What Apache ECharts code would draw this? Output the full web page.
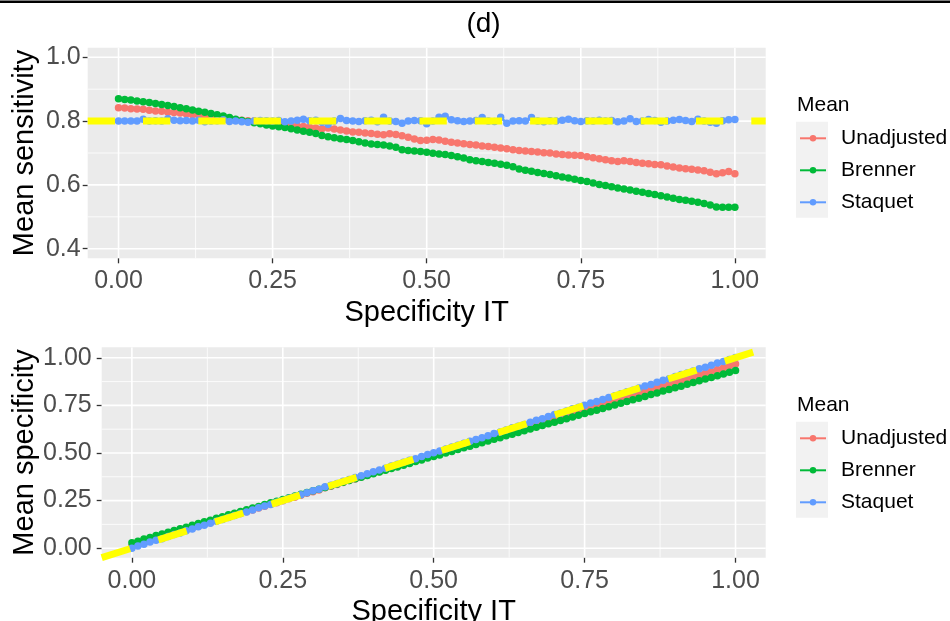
<!DOCTYPE html>
<html>
<head>
<meta charset="utf-8">
<script src="https://cdn.jsdelivr.net/npm/echarts@6/dist/echarts.min.js"></script>
<style>
  html, body { margin: 0; padding: 0; background: #ffffff; }
  #chart { width: 950px; height: 621px; }
</style>
</head>
<body>
<div id="chart"></div>
<script>
// Specificity of the index test (x grid shared by both panels)
const specIT = [
  0.00,0.01,0.02,0.03,0.04,0.05,0.06,0.07,0.08,0.09,
  0.10,0.11,0.12,0.13,0.14,0.15,0.16,0.17,0.18,0.19,
  0.20,0.21,0.22,0.23,0.24,0.25,0.26,0.27,0.28,0.29,
  0.30,0.31,0.32,0.33,0.34,0.35,0.36,0.37,0.38,0.39,
  0.40,0.41,0.42,0.43,0.44,0.45,0.46,0.47,0.48,0.49,
  0.50,0.51,0.52,0.53,0.54,0.55,0.56,0.57,0.58,0.59,
  0.60,0.61,0.62,0.63,0.64,0.65,0.66,0.67,0.68,0.69,
  0.70,0.71,0.72,0.73,0.74,0.75,0.76,0.77,0.78,0.79,
  0.80,0.81,0.82,0.83,0.84,0.85,0.86,0.87,0.88,0.89,
  0.90,0.91,0.92,0.93,0.94,0.95,0.96,0.97,0.98,0.99,
  1.00
];

// Mean sensitivity estimates
const sensUnadjusted = [
  .842,.841,.839,.838,.837,.834,.832,.831,.828,.827,
  .825,.822,.820,.818,.816,.814,.813,.809,.806,.804,
  .803,.801,.800,.797,.796,.794,.792,.789,.787,.785,
  .783,.781,.778,.776,.778,.775,.772,.769,.766,.765,
  .763,.761,.759,.757,.760,.758,.754,.749,.744,.739,
  .740,.742,.741,.737,.734,.731,.729,.727,.725,.722,
  .720,.718,.716,.713,.710,.708,.706,.705,.703,.701,
  .700,.697,.695,.694,.693,.692,.688,.685,.682,.679,
  .676,.673,.676,.673,.670,.668,.666,.664,.663,.659,
  .656,.653,.651,.649,.647,.644,.640,.635,.638,.642,
  .635
];
const sensBrenner = [
  .870,.868,.866,.863,.861,.858,.855,.852,.849,.846,
  .842,.839,.835,.831,.828,.824,.820,.816,.811,.806,
  .802,.799,.795,.792,.788,.785,.782,.780,.776,.772,
  .768,.765,.761,.755,.751,.748,.745,.742,.739,.735,
  .731,.728,.727,.725,.722,.718,.710,.708,.706,.705,
  .702,.699,.697,.695,.692,.688,.684,.679,.676,.673,
  .670,.668,.665,.662,.657,.650,.646,.643,.639,.636,
  .633,.629,.625,.622,.618,.614,.611,.606,.601,.598,
  .594,.590,.587,.584,.580,.577,.573,.570,.566,.562,
  .558,.554,.552,.549,.546,.542,.537,.531,.530,.530,
  .530
];
const sensStaquet = [
  .800,.800,.800,.800,.806,.800,.801,.800,.807,.803,
  .801,.802,.800,.803,.798,.800,.801,.804,.799,.800,
  .798,.796,.800,.802,.801,.800,.802,.798,.800,.803,
  .806,.801,.803,.796,.790,.800,.808,.802,.800,.799,
  .801,.803,.798,.812,.800,.799,.793,.800,.802,.801,
  .792,.800,.812,.815,.804,.801,.799,.800,.802,.811,
  .800,.799,.812,.793,.800,.801,.800,.811,.800,.798,
  .801,.800,.803,.806,.801,.799,.801,.800,.803,.800,
  .802,.798,.800,.807,.799,.800,.805,.802,.796,.800,
  .803,.805,.802,.799,.806,.800,.796,.793,.801,.804,
  .805
];

// Mean specificity estimates
const specUnadjusted = [
  .010,.018,.029,.039,.048,.058,.067,.077,.086,.097,
  .106,.115,.126,.134,.144,.153,.163,.173,.182,.191,
  .201,.211,.220,.231,.239,.249,.259,.268,.278,.288,
  .297,.306,.317,.325,.335,.345,.355,.363,.374,.383,
  .393,.402,.412,.421,.431,.441,.449,.460,.469,.478,
  .489,.498,.507,.517,.527,.536,.545,.556,.565,.574,
  .584,.594,.603,.613,.622,.632,.642,.651,.660,.671,
  .680,.689,.699,.709,.718,.727,.738,.746,.756,.766,
  .776,.785,.794,.805,.813,.823,.833,.842,.852,.861,
  .871,.881,.890,.899,.909,.919,.928,.938,.947,.958,
  .967
];
const specBrenner = [
  .028,.036,.048,.056,.066,.074,.084,.093,.102,.110,
  .120,.129,.139,.147,.157,.165,.175,.183,.193,.202,
  .211,.219,.229,.238,.247,.256,.265,.274,.283,.292,
  .301,.310,.319,.328,.337,.346,.355,.364,.373,.382,
  .391,.400,.409,.418,.427,.436,.445,.455,.463,.473,
  .482,.490,.500,.508,.518,.527,.535,.545,.554,.563,
  .572,.580,.590,.599,.608,.617,.626,.635,.644,.653,
  .662,.671,.680,.689,.698,.707,.716,.725,.734,.743,
  .752,.761,.771,.779,.788,.797,.807,.815,.825,.833,
  .843,.851,.861,.870,.879,.888,.897,.906,.915,.924,
  .933
];
const specStaquet = [
  .000,.011,.021,.032,.041,.050,.061,.072,.080,.091,
  .101,.112,.120,.131,.142,.150,.161,.171,.182,.190,
  .201,.212,.221,.230,.241,.250,.262,.271,.280,.291,
  .301,.310,.322,.331,.340,.352,.361,.371,.380,.391,
  .402,.411,.420,.432,.441,.451,.462,.470,.481,.492,
  .501,.510,.521,.532,.540,.551,.562,.571,.580,.591,
  .602,.610,.621,.632,.641,.650,.661,.672,.680,.691,
  .702,.710,.721,.732,.740,.751,.762,.770,.781,.792,
  .800,.811,.822,.830,.841,.852,.860,.871,.882,.890,
  .901,.912,.920,.931,.942,.950,.961,.972,.980,.991,
  1.002
];

// Reference targets (true sensitivity 0.8, identity for specificity)
const trueSensitivity = 0.8;
const identityEnds = [-0.05, 1.055];

// Axis breaks
const xTicks = [0, 0.25, 0.5, 0.75, 1];
const xMinor = [0.125, 0.375, 0.625, 0.875];
const sensTicks = [0.4, 0.6, 0.8, 1.0];
const sensMinor = [0.5, 0.7, 0.9];
const specTicks = [0, 0.25, 0.5, 0.75, 1];
const specMinor = [0.125, 0.375, 0.625, 0.875];

const methodNames = ['Unadjusted', 'Brenner', 'Staquet'];
const methodColors = ['#F8766D', '#00BA38', '#619CFF'];

const FONT = "'Liberation Sans', Arial, Helvetica, sans-serif";
const chart = echarts.init(document.getElementById('chart'), null, { renderer: 'canvas' });

const pairs = ys => specIT.map((x, i) => [x, ys[i]]);

// White panel grid lines: [value, orientation (0 vertical, 1 horizontal), major flag]
function panelGrid(gi, xMaj, xMin, yMaj, yMin) {
  const items = [];
  xMin.forEach(v => items.push([v, 0, 0]));
  yMin.forEach(v => items.push([v, 1, 0]));
  xMaj.forEach(v => items.push([v, 0, 1]));
  yMaj.forEach(v => items.push([v, 1, 1]));
  return {
    type: 'custom', xAxisIndex: gi, yAxisIndex: gi, silent: true, z: 1,
    animation: false, clip: true,
    data: items,
    renderItem: (params, api) => {
      const v = api.value(0);
      const horizontal = api.value(1) === 1;
      const major = api.value(2) === 1;
      const cs = params.coordSys;
      let shape;
      if (horizontal) {
        const py = api.coord([0, v])[1];
        shape = { x1: cs.x, y1: py, x2: cs.x + cs.width, y2: py };
      } else {
        const px = api.coord([v, 0])[0];
        shape = { x1: px, y1: cs.y, x2: px, y2: cs.y + cs.height };
      }
      return { type: 'line', shape, style: { stroke: '#FFFFFF', lineWidth: major ? 1.6 : 0.8 } };
    }
  };
}

function methodSeries(k, ys, gi) {
  const color = methodColors[k];
  return {
    type: 'line', name: methodNames[k], xAxisIndex: gi, yAxisIndex: gi,
    data: pairs(ys), symbol: 'circle', symbolSize: 7.5,
    showSymbol: true, showAllSymbol: true,
    lineStyle: { color, width: 2.5 }, itemStyle: { color },
    emphasis: { disabled: true }, z: 3, animation: false
  };
}

function xAxisFor(gi) {
  return {
    gridIndex: gi, type: 'value', min: -0.05, max: 1.05,
    axisLine: { show: false, onZero: false },
    axisTick: { show: true, customValues: xTicks, length: 5, lineStyle: { color: '#333333', width: 1.3 } },
    axisLabel: { customValues: xTicks, formatter: v => v.toFixed(2), fontSize: 25, color: '#4D4D4D', margin: 10.5, fontFamily: FONT },
    splitLine: { show: false },
    name: 'Specificity IT', nameLocation: 'middle', nameGap: 40, nameMoveOverlap: false,
    nameTextStyle: { fontSize: 29, color: '#000000', fontFamily: FONT }
  };
}

function legendFor(top) {
  return {
    orient: 'vertical', left: 799, top: top, padding: 0,
    itemWidth: 26, itemHeight: 8, itemGap: 0,
    selectedMode: false, data: methodNames,
    textStyle: { fontSize: 21, lineHeight: 32, color: '#000000', fontFamily: FONT, padding: [0, 0, 0, 10] }
  };
}

const option = {
  animation: false,
  backgroundColor: '#FFFFFF',
  grid: [
    { left: 87.7, top: 47.7, width: 678, height: 210.6, show: true, backgroundColor: '#EBEBEB', borderWidth: 0, containLabel: false, outerBoundsMode: 'none' },
    { left: 101.7, top: 347.3, width: 664, height: 210.4, show: true, backgroundColor: '#EBEBEB', borderWidth: 0, containLabel: false, outerBoundsMode: 'none' }
  ],
  xAxis: [xAxisFor(0), xAxisFor(1)],
  yAxis: [
    {
      gridIndex: 0, type: 'value', min: 0.37, max: 1.03,
      axisLine: { show: false, onZero: false },
      axisTick: { show: true, customValues: sensTicks, length: 5, lineStyle: { color: '#333333', width: 1.3 } },
      axisLabel: { customValues: sensTicks, formatter: v => v.toFixed(1), fontSize: 25, color: '#4D4D4D', margin: 7, fontFamily: FONT },
      splitLine: { show: false },
      name: 'Mean sensitivity', nameLocation: 'middle', nameGap: 48, nameMoveOverlap: false,
      nameTextStyle: { fontSize: 29, color: '#000000', fontFamily: FONT }
    },
    {
      gridIndex: 1, type: 'value', min: -0.05, max: 1.055,
      axisLine: { show: false, onZero: false },
      axisTick: { show: true, customValues: specTicks, length: 5, lineStyle: { color: '#333333', width: 1.3 } },
      axisLabel: { customValues: specTicks, formatter: v => v.toFixed(2), fontSize: 25, color: '#4D4D4D', margin: 10, fontFamily: FONT },
      splitLine: { show: false },
      name: 'Mean specificity', nameLocation: 'middle', nameGap: 62, nameMoveOverlap: false,
      nameTextStyle: { fontSize: 29, color: '#000000', fontFamily: FONT }
    }
  ],
  legend: [legendFor(122.3), legendFor(422.3)],
  graphic: [
    { type: 'rect', left: 0, top: 0.5, z: 10, shape: { width: 950, height: 2.4 }, style: { fill: '#000000' } },
    { type: 'text', x: 483.5, y: 24.5, z: 10, style: { text: '(d)', fontSize: 28, fontFamily: FONT, fill: '#000000', textAlign: 'center', textVerticalAlign: 'middle' } },
    { type: 'rect', x: 796, y: 121.7, z: -1, shape: { width: 32, height: 96 }, style: { fill: '#F2F2F2' } },
    { type: 'rect', x: 796, y: 421.7, z: -1, shape: { width: 32, height: 96 }, style: { fill: '#F2F2F2' } },
    { type: 'text', x: 797, y: 105, z: 10, style: { text: 'Mean', fontSize: 21, fontFamily: FONT, fill: '#000000', textAlign: 'left', textVerticalAlign: 'middle' } },
    { type: 'text', x: 797, y: 405, z: 10, style: { text: 'Mean', fontSize: 21, fontFamily: FONT, fill: '#000000', textAlign: 'left', textVerticalAlign: 'middle' } }
  ],
  series: [
    panelGrid(0, xTicks, xMinor, sensTicks, sensMinor),
    methodSeries(0, sensUnadjusted, 0),
    methodSeries(1, sensBrenner, 0),
    methodSeries(2, sensStaquet, 0),
    {
      type: 'line', name: 'true sensitivity', xAxisIndex: 0, yAxisIndex: 0,
      data: [[-0.05, trueSensitivity], [1.05, trueSensitivity]],
      symbol: 'none', silent: true, z: 5, animation: false,
      lineStyle: { color: '#FFFF00', width: 7, type: [27.3, 28] }
    },
    panelGrid(1, xTicks, xMinor, specTicks, specMinor),
    methodSeries(0, specUnadjusted, 1),
    methodSeries(1, specBrenner, 1),
    methodSeries(2, specStaquet, 1),
    {
      type: 'line', name: 'identity', xAxisIndex: 1, yAxisIndex: 1,
      data: [[identityEnds[0], identityEnds[0]], [identityEnds[1], identityEnds[1]]],
      symbol: 'none', silent: true, z: 5, animation: false,
      lineStyle: { color: '#FFFF00', width: 7, type: [29.7, 29.7] }
    }
  ]
};

chart.setOption(option);
</script>
</body>
</html>
